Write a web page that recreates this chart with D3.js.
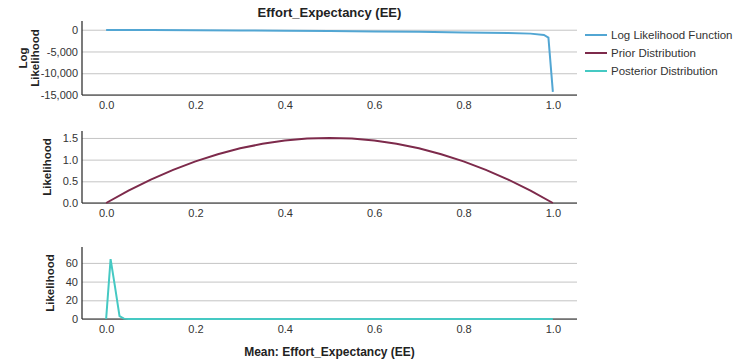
<!doctype html>
<html>
<head>
<meta charset="utf-8">
<title>Effort_Expectancy (EE)</title>
<script src="https://d3js.org/d3.v7.min.js"></script>
<style>
  body { margin: 0; background: #fff; }
  text { font-family: "Liberation Sans", Arial, sans-serif; }
</style>
</head>
<body>
<script>
// values
var xTicks = [0, 0.2, 0.4, 0.6, 0.8, 1.0];

var logLikX = [0, 0.1, 0.2, 0.3, 0.4, 0.5, 0.6, 0.7, 0.8, 0.9, 0.95, 0.98, 0.99, 1.0];
var logLikY = [-40, -70, -110, -160, -230, -300, -390, -490, -620, -760, -900, -1200, -1800, -14300];

var priorX = [0, 0.05, 0.1, 0.15, 0.2, 0.25, 0.3, 0.35, 0.4, 0.45, 0.5, 0.55, 0.6, 0.65, 0.7, 0.75, 0.8, 0.85, 0.9, 0.95, 1.0];
var priorY = [0, 0.285, 0.54, 0.765, 0.96, 1.125, 1.26, 1.365, 1.44, 1.485, 1.5, 1.485, 1.44, 1.365, 1.26, 1.125, 0.96, 0.765, 0.54, 0.285, 0];

var postX = [0, 0.01, 0.02, 0.03, 0.04, 0.05, 0.1, 0.5, 1.0];
var postY = [0, 64, 34, 3, 0.4, 0, 0, 0, 0];

var legendNames = ["Log Likelihood Function", "Prior Distribution", "Posterior Distribution"];
var colors = ["#52a6d3", "#7d2a4b", "#45c9c3"];

var width = 734, height = 362;
var left = 82, right = 577;

var svg = d3.select("body").append("svg")
    .attr("width", width)
    .attr("height", height);

var x = d3.scaleLinear().domain([-0.054, 1.054]).range([left, right]);

var loc = d3.formatLocale({decimal: ".", thousands: ",", grouping: [3], currency: ["", ""], minus: "-"});

var panels = [
  {top: 21, bottom: 95, domain: [-15000, 2000], ticks: [0, -5000, -10000, -15000], fmt: loc.format(","),
   xs: logLikX, ys: logLikY, color: colors[0], title: ["Log", "Likelihood"], titleX: [23, 35]},
  {top: 131, bottom: 203, domain: [0, 1.66], ticks: [0, 0.5, 1, 1.5], fmt: loc.format(".1f"),
   xs: priorX, ys: priorY, color: colors[1], title: ["Likelihood"], titleX: [47]},
  {top: 247, bottom: 319, domain: [0, 77], ticks: [0, 20, 40, 60], fmt: loc.format("d"),
   xs: postX, ys: postY, color: colors[2], title: ["Likelihood"], titleX: [50]}
];

panels.forEach(function (p) {
  var y = d3.scaleLinear().domain(p.domain).range([p.bottom, p.top]);
  var g = svg.append("g");

  // gridlines
  g.append("g")
      .attr("transform", "translate(" + left + ",0)")
      .call(d3.axisLeft(y).tickValues(p.ticks).tickSize(-(right - left)).tickFormat(""))
      .call(function (s) {
        s.select(".domain").remove();
        s.selectAll("line").attr("stroke", "#c4c4c4");
      });

  // y labels
  g.append("g")
      .attr("transform", "translate(" + left + ",0)")
      .call(d3.axisLeft(y).tickValues(p.ticks).tickSize(0).tickPadding(4).tickFormat(p.fmt))
      .call(function (s) {
        s.select(".domain").remove();
        s.selectAll("text").attr("font-size", 11).attr("fill", "#333");
      });

  // x labels
  g.append("g")
      .attr("transform", "translate(0," + p.bottom + ")")
      .call(d3.axisBottom(x).tickValues(xTicks).tickSize(0).tickPadding(6).tickFormat(d3.format(".1f")))
      .call(function (s) {
        s.select(".domain").remove();
        s.selectAll("text").attr("font-size", 11).attr("fill", "#333");
      });

  // frame lines
  g.append("line").attr("x1", left).attr("x2", left).attr("y1", p.top).attr("y2", p.bottom)
      .attr("stroke", "#222").attr("stroke-width", 1.2);
  g.append("line").attr("x1", left).attr("x2", right).attr("y1", p.bottom).attr("y2", p.bottom)
      .attr("stroke", "#222").attr("stroke-width", 1.2);

  // curve
  var pts = p.xs.map(function (d, i) { return [d, p.ys[i]]; });
  g.append("path")
      .datum(pts)
      .attr("fill", "none")
      .attr("stroke", p.color)
      .attr("stroke-width", 2)
      .attr("d", d3.line().x(function (d) { return x(d[0]); }).y(function (d) { return y(d[1]); }));

  // y title
  var cy = (p.top + p.bottom) / 2;
  p.title.forEach(function (t, i) {
    g.append("text")
        .attr("transform", "translate(" + p.titleX[i] + "," + cy + ") rotate(-90)")
        .attr("text-anchor", "middle")
        .attr("dy", "0.35em")
        .attr("font-size", 11.5)
        .attr("font-weight", "bold")
        .attr("fill", "#222")
        .text(t);
  });
});

// chart title
svg.append("text")
    .attr("x", (left + right) / 2)
    .attr("y", 17)
    .attr("text-anchor", "middle")
    .attr("font-size", 13)
    .attr("font-weight", "bold")
    .attr("fill", "#222")
    .text("Effort_Expectancy (EE)");

// x-axis title
svg.append("text")
    .attr("x", (left + right) / 2)
    .attr("y", 356)
    .attr("text-anchor", "middle")
    .attr("font-size", 12)
    .attr("font-weight", "bold")
    .attr("fill", "#222")
    .text("Mean: Effort_Expectancy (EE)");

// legend
var legend = svg.append("g").selectAll("g")
    .data(legendNames)
    .enter().append("g")
    .attr("transform", function (d, i) { return "translate(585," + (35 + i * 18) + ")"; });

legend.append("line")
    .attr("x1", 0).attr("x2", 22)
    .attr("stroke", function (d, i) { return colors[i]; })
    .attr("stroke-width", 2);

legend.append("text")
    .attr("x", 26)
    .attr("dy", "0.35em")
    .attr("font-size", 11.5)
    .attr("fill", "#333")
    .text(function (d) { return d; });
</script>
</body>
</html>
